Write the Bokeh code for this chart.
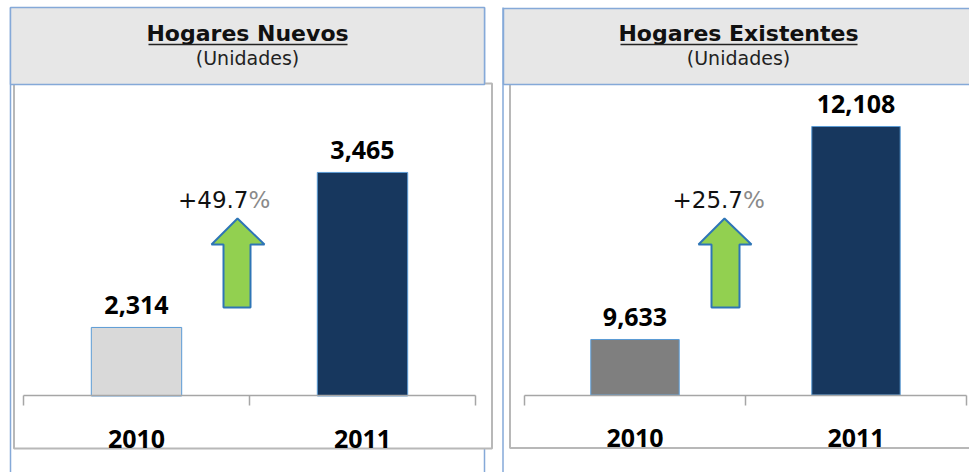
from bokeh.plotting import figure
from bokeh.models import Range1d, LinearAxis, FixedTicker, ColumnDataSource
from bokeh.embed import file_html
from bokeh.resources import INLINE
from bokeh.core.properties import value

# ---------------- data ----------------
categories = ["2010", "2011"]
nuevos = [2314, 3465]
existentes = [9633, 12108]
titles = ["Hogares Nuevos", "Hogares Existentes"]
subtitle = "(Unidades)"

# ---------------- canvas ----------------
W, H = 969, 472
p = figure(width=W, height=H, x_range=Range1d(0, W), y_range=Range1d(H, 0),
           x_axis_type=None, y_axis_type=None, toolbar_location=None,
           output_backend="svg", min_border=0, outline_line_color=None)
p.background_fill_color = "white"
p.border_fill_color = "white"

p.extra_x_ranges = {"nx": Range1d(-0.10177, 4.1858), "ex": Range1d(-2.3710, 2.0136)}
p.extra_y_ranges = {"ny": Range1d(1236.9, 4741.8), "ey": Range1d(8087.5, 13572)}

BLUE = "#85a9d8"
HEAD_FILL = "#e7e7e7"
BOX_LINE = "#b8b8b8"

panels = [
    dict(vals=nuevos, xr="nx", yr="ny", base=1805, colors=["#d9d9d9", "#17375e"],
         vline=[10, 484], box=(13.5, 491.5, 83, 448), head=(10, 484, 7, 84),
         tx=247, ul=(148, 347), arrow=(237, 218, 211, 264, 223, 250, 244, 307),
         pct_x=248, title=titles[0]),
    dict(vals=existentes, xr="ex", yr="ey", base=8988, colors=["#7f7f7f", "#17375e"],
         vline=[502.5], box=(509.5, 980, 83, 447.5), head=(503, 980, 8, 84),
         tx=738, ul=(620, 857), arrow=(724, 218, 698, 751, 711, 739, 244, 307),
         pct_x=742.5, title=titles[1]),
]

# vertical blue guide lines
for pn in panels:
    for vx in pn["vline"]:
        p.segment(x0=vx, y0=7, x1=vx, y1=H + 2, line_color=BLUE, line_width=1.5)

# chart boxes
for pn in panels:
    l, r, t, b = pn["box"]
    p.quad(left=l, right=r, top=t, bottom=b, fill_color="white",
           line_color=BOX_LINE, line_width=2)

# header boxes
for pn in panels:
    l, r, t, b = pn["head"]
    p.quad(left=l, right=r, top=t, bottom=b, fill_color=HEAD_FILL,
           line_color=BLUE, line_width=1.5)
    p.text(x=[pn["tx"]], y=[33], text=[pn["title"]], text_align="center",
           text_baseline="alphabetic", text_font=value("DejaVu Sans"),
           text_font_style="bold", text_font_size="22px", text_color="#111111")
    p.segment(x0=pn["ul"][0], y0=44, x1=pn["ul"][1], y1=44, line_color="#222222",
              line_width=1.5)
    p.text(x=[pn["tx"]], y=[57], text=[subtitle], text_align="center",
           text_baseline="alphabetic", text_font=value("DejaVu Sans"),
           text_font_size="19px", text_color="#222222")

# bars, value labels, axes
for pn in panels:
    xs = [i + 0.5 for i in range(len(categories))]
    src = ColumnDataSource(dict(x=xs, top=pn["vals"], color=pn["colors"],
                                label=[f"{v:,}" for v in pn["vals"]]))
    p.vbar(x="x", top="top", bottom=pn["base"], width=0.4, source=src,
           fill_color="color", line_color="#5b9bd5", line_width=1,
           x_range_name=pn["xr"], y_range_name=pn["yr"])
    p.text(x="x", y="top", text="label", source=src, text_align="center",
           text_baseline="alphabetic", y_offset=-22, text_font=value("Open Sans"),
           text_font_style="bold", text_font_size="25px", text_color="black",
           x_range_name=pn["xr"], y_range_name=pn["yr"])

    ax = LinearAxis(x_range_name=pn["xr"], y_range_name=pn["yr"],
                    fixed_location=pn["base"], bounds=(0, len(categories)),
                    ticker=FixedTicker(ticks=list(range(len(categories) + 1))),
                    major_label_overrides={i: "" for i in range(len(categories) + 1)},
                    axis_line_color="#a6a6a6", axis_line_width=1.5,
                    major_tick_line_color="#a6a6a6", major_tick_line_width=1.5,
                    major_tick_in=0, major_tick_out=10, minor_tick_line_color=None)
    p.add_layout(ax, "below")
    lab = LinearAxis(x_range_name=pn["xr"], y_range_name=pn["yr"],
                     fixed_location=pn["base"], bounds=(0, len(categories)),
                     ticker=FixedTicker(ticks=xs),
                     major_label_overrides={x: c for x, c in zip(xs, categories)},
                     axis_line_color=None, major_tick_line_color=None,
                     minor_tick_line_color=None, major_tick_in=0, major_tick_out=0,
                     major_label_standoff=34, major_label_text_font="Open Sans",
                     major_label_text_font_style="bold",
                     major_label_text_font_size="25px", major_label_text_color="black")
    p.add_layout(lab, "below")

    # growth arrow
    cx, ty, hl, hr, sl, sr, hy, by = pn["arrow"]
    p.patch(x=[cx, hr, sr, sr, sl, sl, hl], y=[ty, hy, hy, by, by, hy, hy],
            fill_color="#92d050", line_color="#2e75b6", line_width=2)

    # growth percentage
    a, b = pn["vals"]
    pct = f"+{(b / a - 1) * 100:.1f}"
    p.text(x=[pn["pct_x"]], y=[199], text=[pct], text_align="right",
           text_baseline="alphabetic", text_font=value("DejaVu Sans"),
           text_font_size="23px", text_color="#111111")
    p.text(x=[pn["pct_x"]], y=[199], text=["%"], text_align="left",
           text_baseline="alphabetic", text_font=value("DejaVu Sans"),
           text_font_size="23px", text_color="#8a8a8a")

open("out.html", "w").write(file_html(p, INLINE))
